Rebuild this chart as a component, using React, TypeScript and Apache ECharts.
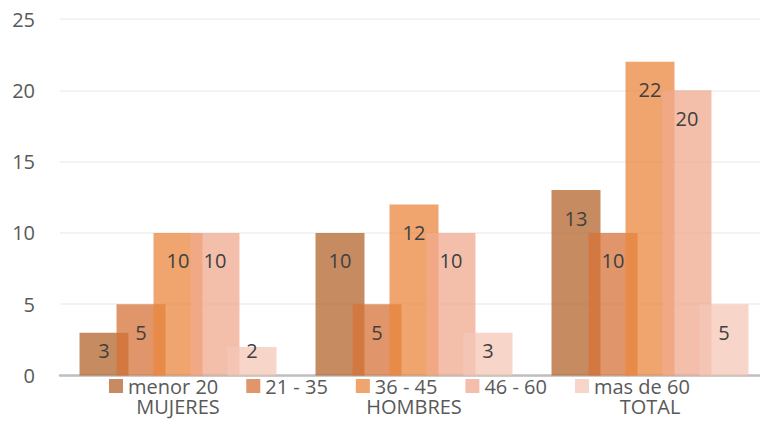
import React, { useEffect, useRef } from "react";
import * as echarts from "echarts";

const categories = ["MUJERES", "HOMBRES", "TOTAL"];
const seriesNames = ["menor 20", "21 - 35", "36 - 45", "46 - 60", "mas de 60"];
const menor20 = [3, 10, 13];
const r21to35 = [5, 5, 10];
const r36to45 = [10, 12, 22];
const r46to60 = [10, 10, 20];
const mas60 = [2, 3, 5];
const yTicks = { min: 0, max: 25, interval: 5 };

const seriesValues = [menor20, r21to35, r36to45, r46to60, mas60];
const colors = [
  "rgba(180,100,45,0.75)",
  "rgba(213,115,56,0.75)",
  "rgba(235,135,61,0.75)",
  "rgba(240,169,141,0.75)",
  "rgba(244,199,183,0.75)",
];

const FONT = "'Open Sans', 'Noto Sans', sans-serif";

export default function App() {
  const ref = useRef<HTMLDivElement>(null);
  useEffect(() => {
    if (!ref.current) return;
    const chart = echarts.init(ref.current, null, { renderer: "svg" });
    chart.setOption({
      animation: false,
      textStyle: { fontFamily: FONT },
      grid: { left: 60, right: 0, top: 19, bottom: 45.5, containLabel: false },
      legend: {
        data: seriesNames,
        left: 104,
        top: 371,
        icon: "rect",
        itemWidth: 14,
        itemHeight: 14,
        itemGap: 28,
        textStyle: { fontSize: 20, color: "#595959", fontFamily: FONT },
      },
      xAxis: {
        type: "category",
        data: categories,
        axisLine: { lineStyle: { color: "#BFBFBF", width: 2.5 } },
        axisTick: { show: false },
        axisLabel: { margin: 21, fontSize: 20, color: "#595959", fontFamily: FONT },
      },
      yAxis: {
        type: "value",
        min: yTicks.min,
        max: yTicks.max,
        interval: yTicks.interval,
        axisLine: { show: false },
        axisTick: { show: false },
        axisLabel: { margin: 25, fontSize: 20, color: "#595959", fontFamily: FONT },
        splitLine: { lineStyle: { color: "#EFEFEF", width: 1.5 } },
      },
      series: seriesNames.map((name, i) => ({
        name,
        type: "bar",
        barWidth: 49,
        barGap: "-24.5%",
        itemStyle: { color: colors[i] },
        label: {
          show: true,
          position: "insideTop",
          distance: 18,
          fontSize: 20,
          color: "#404040",
          fontFamily: FONT,
        },
        data: seriesValues[i].map((v) =>
          v <= 3
            ? { value: v, label: { position: "insideBottom", distance: 15 } }
            : { value: v }
        ),
      })),
    });
    return () => chart.dispose();
  }, []);
  return (
    <div
      style={{ position: "absolute", left: 0, top: 0, width: 760, height: 421, overflow: "hidden", background: "#fff" }}
    >
      <div ref={ref} style={{ width: 768, height: 421 }} />
    </div>
  );
}
